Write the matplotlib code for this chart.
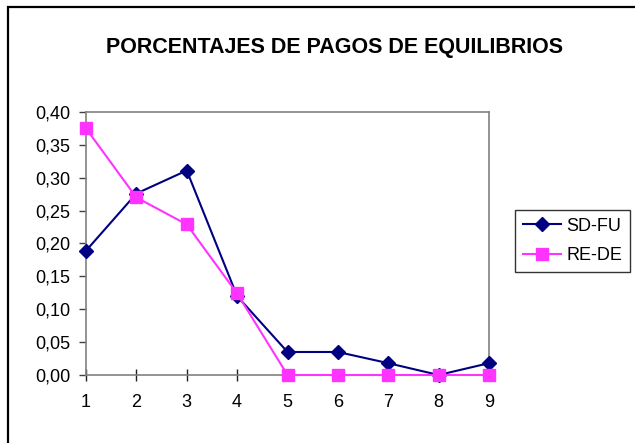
import matplotlib
matplotlib.use("Agg")
from matplotlib import pyplot as plt
from matplotlib.patches import Rectangle

plt.rcParams['font.family'] = ['Liberation Sans', 'DejaVu Sans']

# chart data
x_vals = [1, 2, 3, 4, 5, 6, 7, 8, 9]
sd_fu = [0.189, 0.276, 0.311, 0.120, 0.035, 0.035, 0.018, 0.0, 0.018]
re_de = [0.375, 0.270, 0.229, 0.124, 0.0, 0.0, 0.0, 0.0, 0.0]
y_ticks = [0.0, 0.05, 0.10, 0.15, 0.20, 0.25, 0.30, 0.35, 0.40]
title = "PORCENTAJES DE PAGOS DE EQUILIBRIOS"

fig = plt.figure(figsize=(6.35, 4.43), dpi=100)
# outer chart frame (only left/top edges visible)
fig.patches.append(Rectangle((8 / 635, -0.1), 1.2, 1 - 7 / 443 + 0.1,
                             transform=fig.transFigure, fill=False,
                             edgecolor='black', linewidth=1.6))

ax = fig.add_axes([86 / 635, 1 - 375 / 443, (489 - 86) / 635, (375 - 112) / 443])
ax.plot(x_vals, sd_fu, color='#000080', marker='D', markersize=7.5,
        linewidth=1.5, label='SD-FU', clip_on=False, zorder=3)
ax.plot(x_vals, re_de, color='#ff33ff', marker='s', markersize=8,
        linewidth=1.5, label='RE-DE', clip_on=False, zorder=4)

ax.set_xlim(1, 9)
ax.set_ylim(0, 0.40)
ax.set_xticks(x_vals)
ax.set_yticks(y_ticks)
ax.set_yticklabels([f"{v:.2f}".replace('.', ',') for v in y_ticks])
for s in ax.spines.values():
    s.set_color('#808080')
    s.set_linewidth(1.2)
ax.tick_params(axis='y', direction='out', length=5, width=1, color='#404040',
               labelsize=13, pad=6)
ax.tick_params(axis='x', direction='inout', length=9, width=1, color='#202020',
               labelsize=13, pad=9)

fig.text(334 / 635, 1 - 47 / 443, title, ha='center', va='center',
         fontsize=15.5, fontweight='bold')

leg = ax.legend(loc='center left', bbox_to_anchor=(515 / 635, 1 - 241 / 443),
                bbox_transform=fig.transFigure, fontsize=13, frameon=True,
                fancybox=False, edgecolor='black', borderpad=0.45,
                handlelength=2.1, handletextpad=0.3, labelspacing=0.7,
                borderaxespad=0)
leg.get_frame().set_linewidth(1)

fig.savefig("out.png", dpi=100)
